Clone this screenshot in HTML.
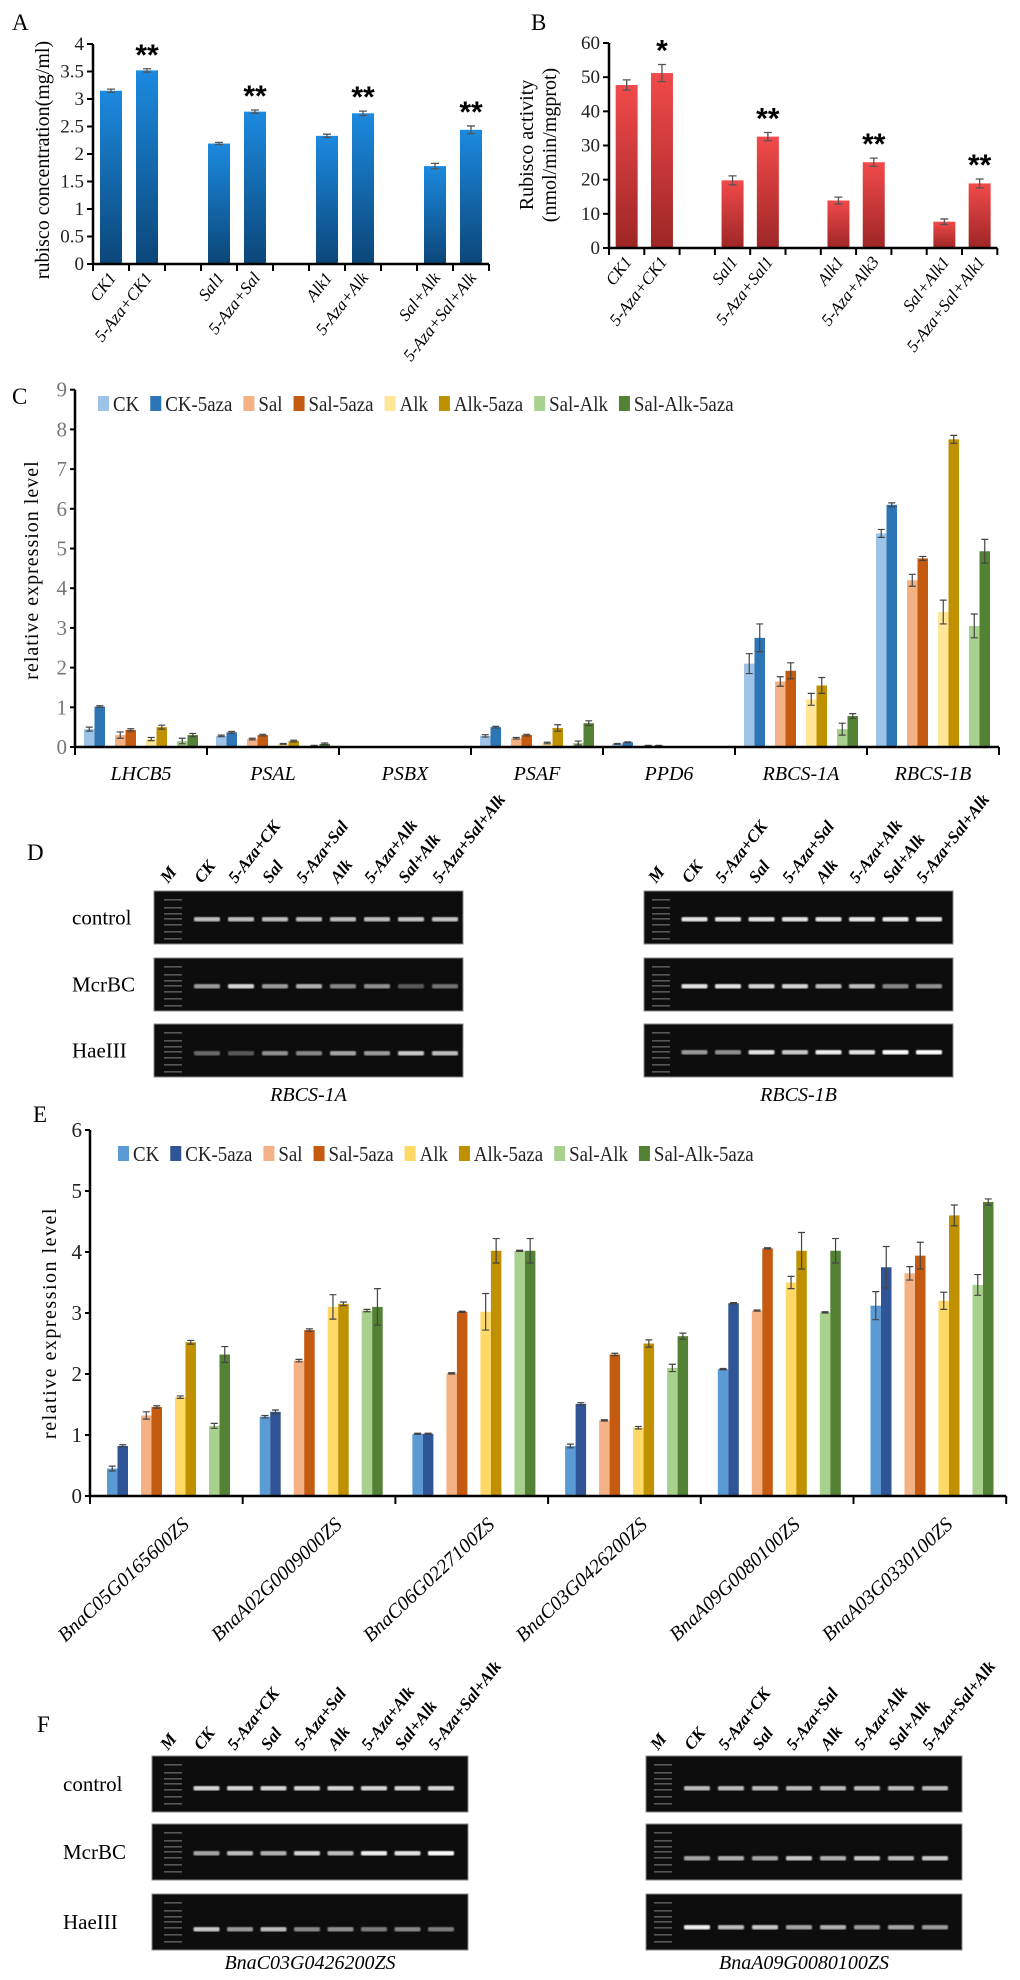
<!DOCTYPE html>
<html><head><meta charset="utf-8">
<style>
html,body{margin:0;padding:0;background:#fff;}
svg{display:block;font-family:"Liberation Serif",serif;}
</style></head>
<body>
<svg id="fig" width="1020" height="1980" viewBox="0 0 1020 1980" xmlns="http://www.w3.org/2000/svg">
<defs>
<linearGradient id="gBlue" x1="0" y1="0" x2="0" y2="1"><stop offset="0" stop-color="#1c8ae0"/><stop offset="1" stop-color="#0b4678"/></linearGradient>
<linearGradient id="gRed" x1="0" y1="0" x2="0" y2="1"><stop offset="0" stop-color="#f24a4a"/><stop offset="1" stop-color="#9e2626"/></linearGradient>
<filter id="blur1"><feGaussianBlur stdDeviation="0.8"/></filter>
</defs>
</svg>
<script>
// ---------- Panel A data ----------
const A_cats=['CK1','5-Aza+CK1','','Sal1','5-Aza+Sal','','Alk1','5-Aza+Alk','','Sal+Alk','5-Aza+Sal+Alk'];
const A_vals=[3.15,3.52,null,2.19,2.77,null,2.33,2.74,null,1.78,2.44];
const A_err=[0.03,0.03,0,0.02,0.03,0,0.03,0.04,0,0.05,0.07];
const A_sig=['','**','','','**','','','**','','','**'];
const A_ticks=['0','0.5','1','1.5','2','2.5','3','3.5','4'];
// ---------- Panel B data ----------
const B_cats=['CK1','5-Aza+CK1','','Sal1','5-Aza+Sal1','','Alk1','5-Aza+Alk3','','Sal+Alk1','5-Aza+Sal+Alk1'];
const B_vals=[47.7,51.2,null,19.8,32.6,null,13.9,25.1,null,7.7,18.9];
const B_err=[1.5,2.5,0,1.3,1.2,0,1.0,1.2,0,0.8,1.3];
const B_sig=['','*','','','**','','','**','','','**'];
const B_ticks=['0','10','20','30','40','50','60'];
// ---------- Panel C data ----------
const seriesNames=['CK','CK-5aza','Sal','Sal-5aza','Alk','Alk-5aza','Sal-Alk','Sal-Alk-5aza'];
const C_genes=['LHCB5','PSAL','PSBX','PSAF','PPD6','RBCS-1A','RBCS-1B'];
const C_CK=[0.45,0.28,0.02,0.28,0.08,2.10,5.38];
const C_CK5=[1.02,0.37,0.02,0.50,0.12,2.75,6.10];
const C_Sal=[0.30,0.20,0.01,0.22,0.03,1.65,4.20];
const C_Sal5=[0.43,0.30,0.01,0.30,0.03,1.92,4.75];
const C_Alk=[0.20,0.08,0.01,0.10,0.01,1.20,3.40];
const C_Alk5=[0.50,0.15,0.01,0.48,0.01,1.55,7.75];
const C_SA=[0.15,0.03,0.01,0.10,0.01,0.45,3.05];
const C_SA5=[0.30,0.08,0.01,0.60,0.01,0.78,4.93];
const C_errCK=[0.05,0.02,0,0.03,0.01,0.25,0.10];
const C_errCK5=[0.02,0.02,0,0.02,0.01,0.35,0.05];
const C_errSal=[0.08,0.02,0,0.02,0.01,0.12,0.15];
const C_errSal5=[0.03,0.02,0,0.02,0.01,0.20,0.05];
const C_errAlk=[0.04,0.01,0,0.02,0,0.15,0.30];
const C_errAlk5=[0.05,0.02,0,0.08,0,0.20,0.10];
const C_errSA=[0.07,0.01,0,0.05,0,0.15,0.30];
const C_errSA5=[0.04,0.02,0,0.06,0,0.06,0.30];
const C_ticks=['0','1','2','3','4','5','6','7','8','9'];
// ---------- Panel E data ----------
const E_genes=['BnaC05G0165600ZS','BnaA02G0009000ZS','BnaC06G0227100ZS','BnaC03G0426200ZS','BnaA09G0080100ZS','BnaA03G0330100ZS'];
const E_CK=[0.45,1.30,1.02,0.82,2.08,3.12];
const E_CK5=[0.82,1.38,1.02,1.51,3.16,3.75];
const E_Sal=[1.32,2.22,2.01,1.24,3.04,3.65];
const E_Sal5=[1.46,2.72,3.02,2.32,4.06,3.94];
const E_Alk=[1.62,3.10,3.02,1.12,3.50,3.20];
const E_Alk5=[2.52,3.15,4.02,2.50,4.02,4.60];
const E_SA=[1.15,3.04,4.02,2.10,3.01,3.46];
const E_SA5=[2.32,3.10,4.02,2.62,4.02,4.82];
const E_errCK=[0.04,0.02,0.01,0.03,0.01,0.23];
const E_errCK5=[0.02,0.03,0.01,0.02,0.01,0.34];
const E_errSal=[0.06,0.02,0.01,0.01,0.01,0.11];
const E_errSal5=[0.02,0.02,0.01,0.02,0.01,0.22];
const E_errAlk=[0.02,0.20,0.30,0.02,0.10,0.14];
const E_errAlk5=[0.03,0.03,0.20,0.06,0.30,0.17];
const E_errSA=[0.04,0.02,0.01,0.06,0.01,0.17];
const E_errSA5=[0.13,0.30,0.20,0.05,0.20,0.05];
const E_ticks=['0','1','2','3','4','5','6'];
// ---------- Gel data (band intensity 0-1 per lane) ----------
const laneNames=['M','CK','5-Aza+CK','Sal','5-Aza+Sal','Alk','5-Aza+Alk','Sal+Alk','5-Aza+Sal+Alk'];
const D1_control=[0.75,0.75,0.75,0.75,0.75,0.75,0.78,0.78];
const D1_mcrbc=[0.6,0.85,0.6,0.7,0.5,0.55,0.25,0.4];
const D1_haeiii=[0.35,0.25,0.55,0.5,0.65,0.6,0.8,0.75];
const D2_control=[0.9,0.9,0.9,0.9,0.9,0.92,0.92,0.92];
const D2_mcrbc=[0.9,0.9,0.85,0.85,0.75,0.75,0.5,0.55];
const D2_haeiii=[0.6,0.55,0.9,0.8,0.95,0.9,1.0,1.0];
const F1_control=[0.85,0.85,0.85,0.85,0.85,0.85,0.85,0.85];
const F1_mcrbc=[0.65,0.75,0.7,0.85,0.75,0.95,0.9,1.0];
const F1_haeiii=[0.8,0.6,0.75,0.5,0.55,0.45,0.5,0.45];
const F2_control=[0.75,0.75,0.75,0.75,0.75,0.75,0.75,0.75];
const F2_mcrbc=[0.65,0.7,0.65,0.8,0.7,0.8,0.75,0.8];
const F2_haeiii=[0.95,0.75,0.8,0.65,0.7,0.6,0.65,0.6];

const NS='http://www.w3.org/2000/svg';
const svg=document.getElementById('fig');
function mk(tag,attrs,parent){const e=document.createElementNS(NS,tag);for(const k in attrs)e.setAttribute(k,attrs[k]);(parent||svg).appendChild(e);return e;}
function txt(s,attrs,parent){const e=mk('text',attrs,parent);e.textContent=s;return e;}

// panel letters
[['A',12,30],['B',531,30],['C',12,404],['D',27,860],['E',33,1122],['F',37,1732]].forEach(p=>{
  const t=txt(p[0],{x:p[1],y:p[2],'font-size':23});
  
  
});

// ---------- simple bar chart ----------
function simpleChart(cfg){
  const g=mk('g',{});
  
  
  const n=cfg.cats.length;
  const yS=v=>cfg.y0-(v/cfg.max)*(cfg.y0-cfg.yTop);
  const xEnd=cfg.x0+n*cfg.slot;
  const ya=mk('line',{x1:cfg.x0,y1:cfg.yTop,x2:cfg.x0,y2:cfg.y0,stroke:'#000','stroke-width':2.5},g);
  
  
  cfg.ticks.forEach(tk=>{
    const v=parseFloat(tk),y=yS(v);
    mk('line',{x1:cfg.x0-6,y1:y,x2:cfg.x0,y2:y,stroke:'#000','stroke-width':2},g);
    const t=txt(tk,{x:cfg.x0-9,y:y+6,'text-anchor':'end','font-size':19,fill:'#222'},g);
    
    
  });
  cfg.vals.forEach((v,i)=>{
    const cx=cfg.x0+(i+0.5)*cfg.slot;
    if(v!==null){
      const b=mk('rect',{x:cx-cfg.bw/2,y:yS(v),width:cfg.bw,height:cfg.y0-yS(v),fill:cfg.fill},g);
      
      
      const e=cfg.err[i],y1=yS(v+e),y2=yS(v-e);
      mk('path',{d:`M${cx},${y1}V${y2}M${cx-4},${y1}H${cx+4}M${cx-4},${y2}H${cx+4}`,stroke:'#555','stroke-width':1.3,fill:'none'},g);
      if(cfg.sig[i]){
        const s=txt(cfg.sig[i],{x:cx,y:yS(v+e)-4,'text-anchor':'middle','font-size':30,'font-weight':'bold','font-family':'Liberation Sans, sans-serif'},g);
        
        
      }
      const lab=txt(cfg.cats[i],{x:0,y:0,'text-anchor':'end','font-size':17,'font-style':'italic',transform:`translate(${cx+6},${cfg.y0+14}) rotate(-52)`},g);
      
      
    }
  });
  const xa=mk('line',{x1:cfg.x0,y1:cfg.y0,x2:xEnd,y2:cfg.y0,stroke:'#000','stroke-width':2.5},g);
  
  
  for(let i=0;i<=n;i++){const x=cfg.x0+i*cfg.slot;mk('line',{x1:x,y1:cfg.y0,x2:x,y2:cfg.y0+7,stroke:'#000','stroke-width':2},g);}
  return g;
}
simpleChart({name:'chart-a-rubisco-concentration',cats:A_cats,vals:A_vals,err:A_err,sig:A_sig,ticks:A_ticks,max:4,x0:93,slot:36,y0:264,yTop:44,bw:22,fill:'url(#gBlue)'});
let t=txt('rubisco concentration(mg/ml)',{x:0,y:0,'text-anchor':'middle','font-size':20,transform:'translate(49,160) rotate(-90)'});



simpleChart({name:'chart-b-rubisco-activity',cats:B_cats,vals:B_vals,err:B_err,sig:B_sig,ticks:B_ticks,max:60,x0:609,slot:35.3,y0:248,yTop:43,bw:22,fill:'url(#gRed)'});
t=txt('Rubisco activity',{x:0,y:0,'text-anchor':'middle','font-size':20,transform:'translate(533,145) rotate(-90)'});


t=txt('(nmol/min/mgprot)',{x:0,y:0,'text-anchor':'middle','font-size':20,transform:'translate(556,145) rotate(-90)'});



// ---------- grouped chart ----------
function groupedChart(cfg){
  const g=mk('g',{});
  
  
  const nG=cfg.groups.length;
  const yS=v=>cfg.y0-v*cfg.ppu;
  const xEnd=cfg.x0+nG*cfg.gw;
  const ya=mk('line',{x1:cfg.x0,y1:yS(cfg.ticks.length-1),x2:cfg.x0,y2:cfg.y0,stroke:'#000','stroke-width':2.5},g);
  
  
  cfg.ticks.forEach(tk=>{
    const y=yS(parseFloat(tk));
    mk('line',{x1:cfg.x0-5,y1:y,x2:cfg.x0,y2:y,stroke:'#000','stroke-width':2},g);
    const tt=txt(tk,{x:cfg.x0-8,y:y+7,'text-anchor':'end','font-size':21,fill:cfg.tickColor},g);
    
    
  });
  cfg.groups.forEach((gn,gi)=>{
    const gx=cfg.x0+gi*cfg.gw;
    cfg.series.forEach((s,si)=>{
      const pair=Math.floor(si/2),k=si%2;
      const x=gx+cfg.off+pair*cfg.pstep+k*cfg.bw;
      const v=s[gi];
      const b=mk('rect',{x:x,y:yS(v),width:cfg.bw,height:v*cfg.ppu,fill:cfg.colors[si]},g);
      
      
      const e=cfg.errs[si][gi];
      if(e>0){const cx=x+cfg.bw/2,y1=yS(v+e),y2=yS(v-e);
        mk('path',{d:`M${cx},${y1}V${y2}M${cx-3.5},${y1}H${cx+3.5}M${cx-3.5},${y2}H${cx+3.5}`,stroke:'#444','stroke-width':1.2,fill:'none'},g);}
    });
    const lab=cfg.rotLabels
      ? txt(gn,{x:0,y:0,'text-anchor':'end','font-size':20,'font-style':'italic',transform:`translate(${gx+cfg.gw/2+24},${cfg.y0+30}) rotate(-43)`},g)
      : txt(gn,{x:gx+cfg.gw/2,y:cfg.y0+33,'text-anchor':'middle','font-size':20,'font-style':'italic'},g);
    
    
  });
  const xa=mk('line',{x1:cfg.x0,y1:cfg.y0,x2:xEnd,y2:cfg.y0,stroke:'#000','stroke-width':2.5},g);
  
  
  for(let i=0;i<=nG;i++){const x=cfg.x0+i*cfg.gw;mk('line',{x1:x,y1:cfg.y0,x2:x,y2:cfg.y0+8,stroke:'#000','stroke-width':2},g);}
  const lg=mk('g',{},g);
  
  
  let lx=cfg.legX;
  seriesNames.forEach((nm,si)=>{
    const it=mk('g',{},lg);
    
    
    mk('rect',{x:lx,y:cfg.legY-9,width:11,height:15,fill:cfg.colors[si]},it);
    const tt=txt(nm,{x:lx+15,y:cfg.legY+6,'font-size':21,fill:'#222',transform:`translate(${(lx+15)*(1-0.9)},0) scale(0.9,1)`},it);
    lx+=15+tt.getComputedTextLength()*0.9+cfg.legGap;
  });
  return g;
}
groupedChart({name:'chart-c-expression',groups:C_genes,series:[C_CK,C_CK5,C_Sal,C_Sal5,C_Alk,C_Alk5,C_SA,C_SA5],
  errs:[C_errCK,C_errCK5,C_errSal,C_errSal5,C_errAlk,C_errAlk5,C_errSA,C_errSA5],ticks:C_ticks,
  colors:['#9dc3e6','#2e75b6','#f4b183','#c55a11','#ffe699','#bf9000','#a9d18e','#548235'],
  x0:75,gw:132,y0:747,ppu:39.7,off:9,pstep:31,bw:10.5,tickColor:'#777',legX:98,legY:405,legGap:11,rotLabels:false});
t=txt('relative expression level',{x:0,y:0,'text-anchor':'middle','font-size':20,'letter-spacing':'1',transform:'translate(38,570) rotate(-90)'});



groupedChart({name:'chart-e-expression',groups:E_genes,series:[E_CK,E_CK5,E_Sal,E_Sal5,E_Alk,E_Alk5,E_SA,E_SA5],
  errs:[E_errCK,E_errCK5,E_errSal,E_errSal5,E_errAlk,E_errAlk5,E_errSA,E_errSA5],ticks:E_ticks,
  colors:['#5b9bd5','#2f5597','#f4b183','#c55a11','#ffd966','#bf9000','#a9d18e','#548235'],
  x0:90,gw:152.7,y0:1496,ppu:61,off:17,pstep:34,bw:10.5,tickColor:'#222',legX:118,legY:1155,legGap:11,rotLabels:true});
t=txt('relative expression level',{x:0,y:0,'text-anchor':'middle','font-size':20,'letter-spacing':'1.5',transform:'translate(56,1323) rotate(-90)'});



// ---------- gels ----------
function gel(cfg){
  const g=mk('g',{});
  
  
  const w=cfg.x1-cfg.x0;
  const laneX=i=>cfg.x0+cfg.firstLane+i*cfg.step;
  laneNames.forEach((ln,i)=>{
    const lt=txt(ln,{x:0,y:0,'font-size':17,'font-weight':'bold','font-style':'italic',transform:`translate(${laneX(i)-5},${cfg.labY}) rotate(-52)`},g);
    
    
  });
  cfg.rows.forEach((r,ri)=>{
    const y0=cfg.rowY[ri],h=cfg.rowH;
    const box=mk('rect',{x:cfg.x0,y:y0,width:w,height:h,fill:'#0d0d0d',stroke:'#888','stroke-width':1},g);
    
    
    if(cfg.showRowLabels){
      const rl=txt(cfg.rowNames[ri],{x:cfg.rowLabX,y:y0+h/2+7,'font-size':21},g);
      
      
    }
    [8,16,22,27,33,40,47].forEach(dy=>{mk('rect',{x:laneX(0)-9,y:y0+dy,width:18,height:1.6,fill:'#777',opacity:0.7},g);});
    r.forEach((v,li)=>{
      const c=Math.round(120+135*v);
      const bd=mk('rect',{x:laneX(li+1)-13,y:y0+cfg.bandY[ri]-2,width:26,height:4.5,rx:1.5,fill:`rgb(${c},${c},${c})`,opacity:0.4+0.6*v,filter:'url(#blur1)'},g);
      
      
    });
  });
  const gt=txt(cfg.gene,{x:(cfg.x0+cfg.x1)/2,y:cfg.geneY,'text-anchor':'middle','font-size':20,'font-style':'italic'},g);
  
  
}
const rowNames=['control','McrBC','HaeIII'];
gel({name:'gel-d-rbcs-1a',gene:'RBCS-1A',rows:[D1_control,D1_mcrbc,D1_haeiii],rowNames:rowNames,showRowLabels:true,rowLabX:72,
  x0:154,x1:463,rowY:[891,958,1024],rowH:53,bandY:[28,28,29],firstLane:19,step:34,labY:884,geneY:1101});
gel({name:'gel-d-rbcs-1b',gene:'RBCS-1B',rows:[D2_control,D2_mcrbc,D2_haeiii],rowNames:rowNames,showRowLabels:false,
  x0:644,x1:953,rowY:[891,958,1024],rowH:53,bandY:[28,28,28],firstLane:17,step:33.5,labY:884,geneY:1101});
gel({name:'gel-f-bnac03g0426200zs',gene:'BnaC03G0426200ZS',rows:[F1_control,F1_mcrbc,F1_haeiii],rowNames:rowNames,showRowLabels:true,rowLabX:63,
  x0:152,x1:468,rowY:[1756,1824,1894],rowH:56,bandY:[32,29,35],firstLane:21,step:33.5,labY:1751,geneY:1969});
gel({name:'gel-f-bnaa09g0080100zs',gene:'BnaA09G0080100ZS',rows:[F2_control,F2_mcrbc,F2_haeiii],rowNames:rowNames,showRowLabels:false,
  x0:646,x1:962,rowY:[1756,1824,1894],rowH:56,bandY:[32,34,33],firstLane:17,step:34,labY:1751,geneY:1969});
</script>
</body></html>
